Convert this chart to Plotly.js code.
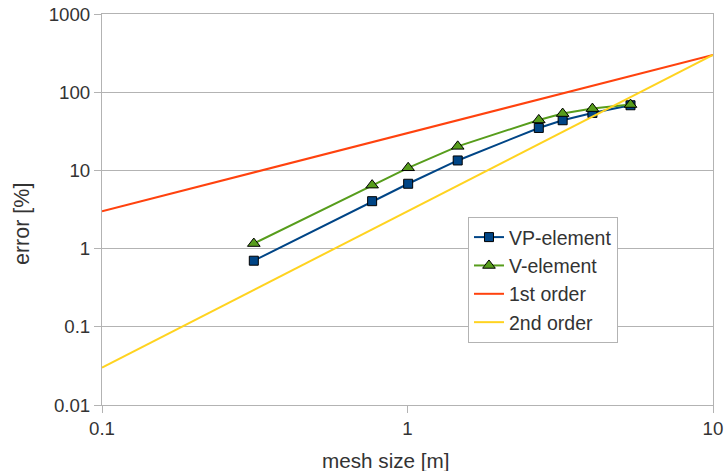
<!DOCTYPE html>
<html>
<head>
<meta charset="utf-8">
<script src="https://cdn.plot.ly/plotly-3.0.1.min.js"></script>
<style>html,body{margin:0;padding:0;background:#fff;}#chart{width:725px;height:471px;}</style>
</head>
<body>
<div id="chart"></div>
<script>
const meshSize = [0.314, 0.766, 1.005, 1.46, 2.69, 3.22, 4.03, 5.37];
const vpElement = [0.70, 4.04, 6.75, 13.4, 34.9, 43.8, 54.3, 68.1];
const vElement = [1.16, 6.48, 10.8, 20.3, 44.2, 53.3, 61.7, 69.5];
const refX = [0.1, 10];
const firstOrder = [3, 300];
const secondOrder = [0.03, 300];
const xTicks = [0.1, 1, 10];
const xTickLabels = ['0.1', '1', '10'];
const yTicks = [0.01, 0.1, 1, 10, 100, 1000];
const yTickLabels = ['0.01', '0.1', '1', '10', '100', '1000'];
const xTitle = 'mesh size [m]';
const yTitle = 'error [%]';

const fam = 'Liberation Sans, Arial, sans-serif';
const font = {family: fam, size: 18.7, color: '#333333'};
const legendFont = {family: fam, size: 19.5, color: '#333333'};
const xTitleFont = {family: fam, size: 20.7, color: '#333333'};
const yTitleFont = {family: fam, size: 21.5, color: '#333333'};
const traces = [
  {x: meshSize, y: vpElement, name: 'VP-element', mode: 'lines+markers',
   line: {color: '#004586', width: 2},
   marker: {symbol: 'square', size: 9, color: '#004586', line: {color: '#000000', width: 1}}},
  {x: meshSize, y: vElement, name: 'V-element', mode: 'lines+markers',
   line: {color: '#579d1c', width: 2},
   marker: {symbol: 'triangle-up', size: 11, color: '#579d1c', line: {color: '#000000', width: 1}}},
  {x: refX, y: firstOrder, name: '1st order', mode: 'lines',
   line: {color: '#ff420e', width: 2}},
  {x: refX, y: secondOrder, name: '2nd order', mode: 'lines',
   line: {color: '#ffd320', width: 2}}
];
const layout = {
  width: 725, height: 471,
  margin: {l: 102, r: 12, t: 14, b: 66},
  paper_bgcolor: '#ffffff', plot_bgcolor: '#ffffff',
  font: font,
  showlegend: true,
  legend: {x: 0.599, y: 0.481, xanchor: 'left', yanchor: 'top',
           bgcolor: '#ffffff', bordercolor: '#b3b3b3', borderwidth: 1,
           font: legendFont, tracegroupgap: 0},
  xaxis: {type: 'log', range: [-1, 1], tickvals: xTicks, ticktext: xTickLabels,
          showgrid: false, zeroline: false,
          showline: true, linecolor: '#b3b3b3', linewidth: 1, mirror: true,
          ticks: 'outside', ticklen: 7, tickcolor: '#b3b3b3'},
  yaxis: {type: 'log', range: [-2, 3], tickvals: yTicks, ticktext: yTickLabels,
          showgrid: true, gridcolor: '#b3b3b3', gridwidth: 1, zeroline: false,
          showline: true, linecolor: '#b3b3b3', linewidth: 1, mirror: true,
          ticks: 'outside', ticklen: 7, tickcolor: '#b3b3b3'},
  annotations: [
    {text: xTitle, xref: 'paper', yref: 'paper', x: (385.5 - 102) / 611, y: (405 - 460.5) / 391,
     xanchor: 'center', yanchor: 'middle', showarrow: false, font: xTitleFont},
    {text: yTitle, xref: 'paper', yref: 'paper', x: (22 - 102) / 611, y: (405 - 224) / 391,
     xanchor: 'center', yanchor: 'middle', showarrow: false, textangle: -90, font: yTitleFont}
  ]
};
Plotly.newPlot('chart', traces, layout, {displayModeBar: false, staticPlot: true});
</script>
</body>
</html>
